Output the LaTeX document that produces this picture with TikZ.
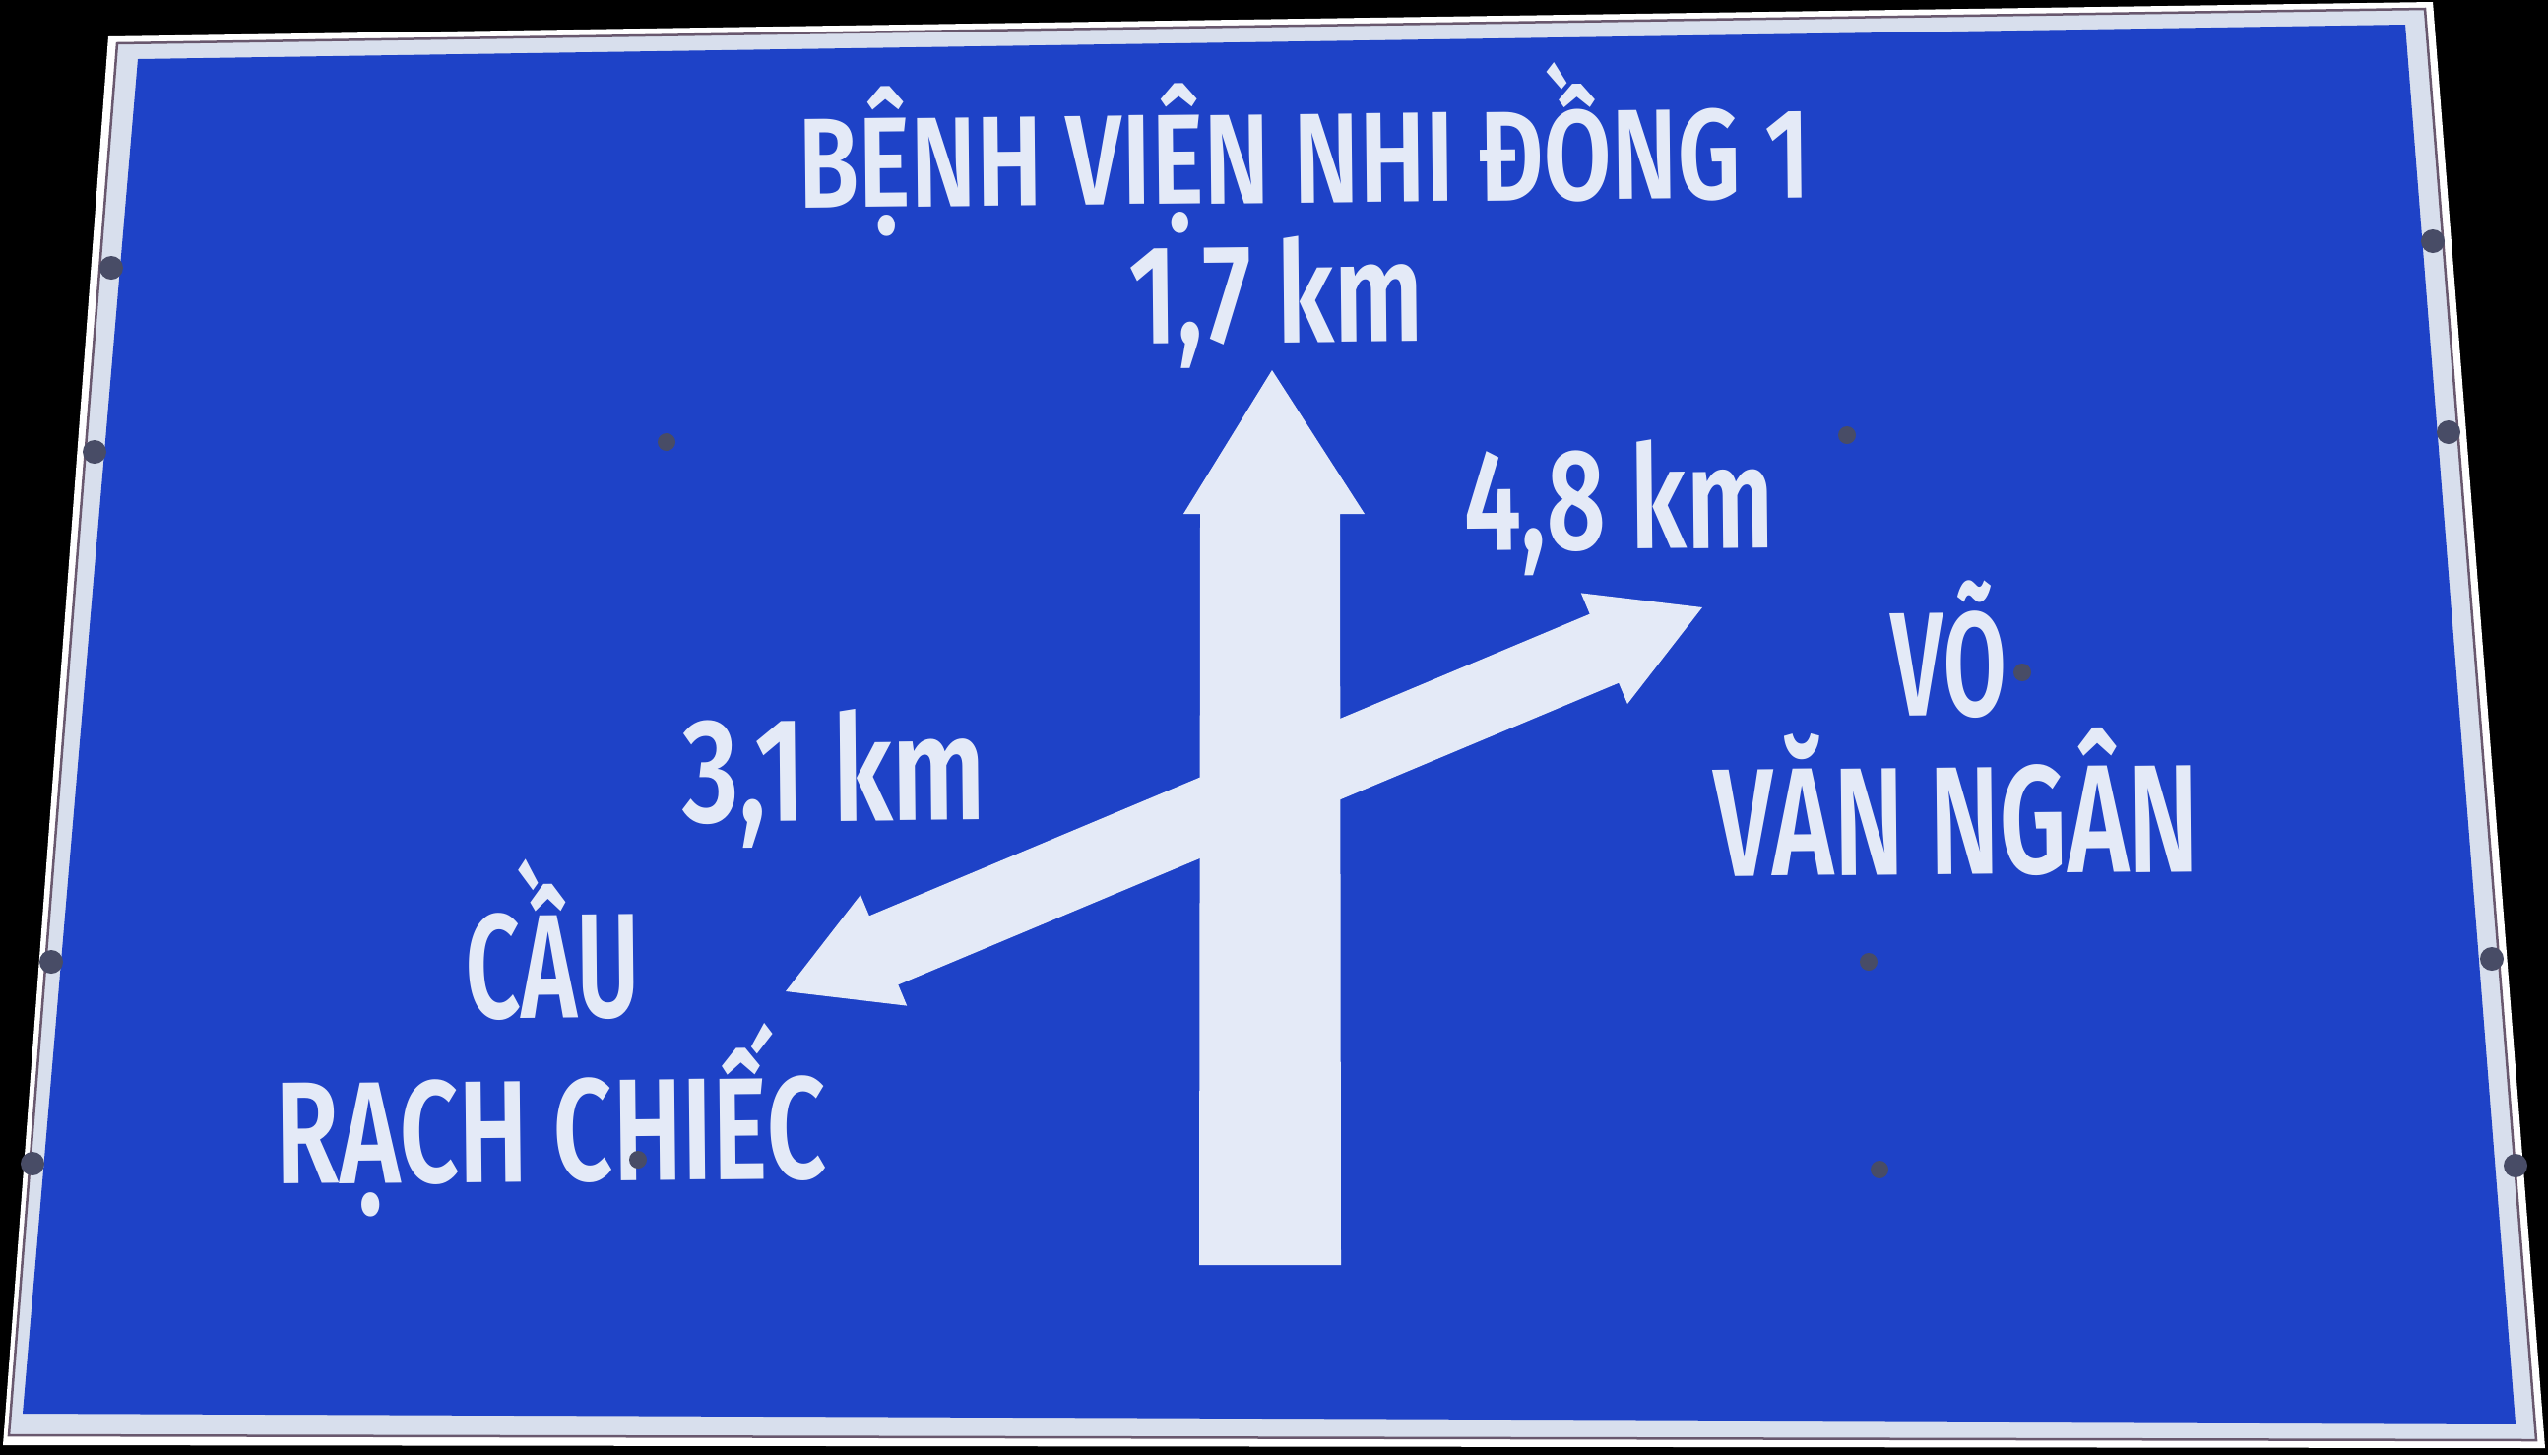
\documentclass[tikz,border=0pt]{standalone}
\usepackage{fontspec}
\usepackage{graphicx}
\newfontfamily\signfont{Fira Sans SemiBold}
\definecolor{signblue}{RGB}{30,66,199}
\definecolor{signwhite}{RGB}{228,234,247}
\definecolor{bandgray}{RGB}{216,223,237}
\definecolor{boltcol}{RGB}{72,76,102}
\definecolor{edgeline}{RGB}{105,88,110}
\newlength\sgcap
\newcommand\signtext[3]{\settoheight{\sgcap}{\signfont H}\setbox0=\hbox{\signfont #3}\ht0=\sgcap\dp0=0pt\resizebox{#1}{#2}{\box0}}
\begin{document}
\begin{tikzpicture}[x=0.01cm,y=-0.01cm,
  signlabel/.style={inner sep=0pt, outer sep=0pt, text=signwhite, anchor=south, rotate=0.6},
  bolt/.style={fill=boltcol},
  arrowshape/.style={fill=signwhite}]
\fill[black] (0,0) rectangle (2588,1478);
\useasboundingbox (0,0) rectangle (2588,1478);
% sign plate
\fill[white] (110,37) -- (2471,2) -- (2585,1471) -- (3,1468) -- cycle;
\filldraw[fill=bandgray, draw=edgeline, line width=0.025cm] (119,44) -- (2463,9) -- (2576,1463) -- (9,1458) -- cycle;
\fill[signblue] (140,60) -- (2443,25) -- (2555,1446) -- (23,1436) -- cycle;
% straight-ahead arrow
\fill[arrowshape] (1292,376) -- (1386,522) -- (1361,522) -- (1362,1285) -- (1218,1285) -- (1219,522) -- (1202,522) -- cycle;
% diagonal double arrow
\fill[arrowshape] (798,1007) -- (874.0,909.0) -- (882.9,930.3) -- (1614.7,623.7) -- (1605.8,602.4) -- (1729,617) -- (1653.0,715.0) -- (1644.1,693.7) -- (912.3,1000.3) -- (921.2,1021.6) -- cycle;
% texts
\node[signlabel] (title) at (1325,206) {\signtext{10.27cm}{0.90cm}{BỆNH VIỆN NHI ĐỒNG 1}};
\node[signlabel] (d17) at (1297,348) {\signtext{2.99cm}{0.99cm}{1,7 km}};
\node[signlabel] (d48) at (1645,558) {\signtext{3.15cm}{1.01cm}{4,8 km}};
\node[signlabel] (d31) at (848,834) {\signtext{3.08cm}{1.04cm}{3,1 km}};
\node[signlabel] (cau) at (562,1034) {\signtext{1.76cm}{1.04cm}{CẦU}};
\node[signlabel] (rach) at (560,1200) {\signtext{5.58cm}{1.02cm}{RẠCH CHIẾC}};
\node[signlabel] (vo) at (1980,727) {\signtext{1.17cm}{1.04cm}{VÕ}};
\node[signlabel] (vanngan) at (1988,888) {\signtext{4.92cm}{1.08cm}{VĂN NGÂN}};
% bolts on the face
\foreach \p in {(677,449),(1876,442),(2054,683),(1898,977),(1909,1188),(648,1178)}
  \fill[bolt] \p circle (9);
% bolts on the border
\foreach \p in {(113,272),(96,459),(52,977),(33,1182),(2471,245),(2487,439),(2531,974),(2555,1184)}
  \fill[bolt] \p circle (12);
\end{tikzpicture}
\end{document}
